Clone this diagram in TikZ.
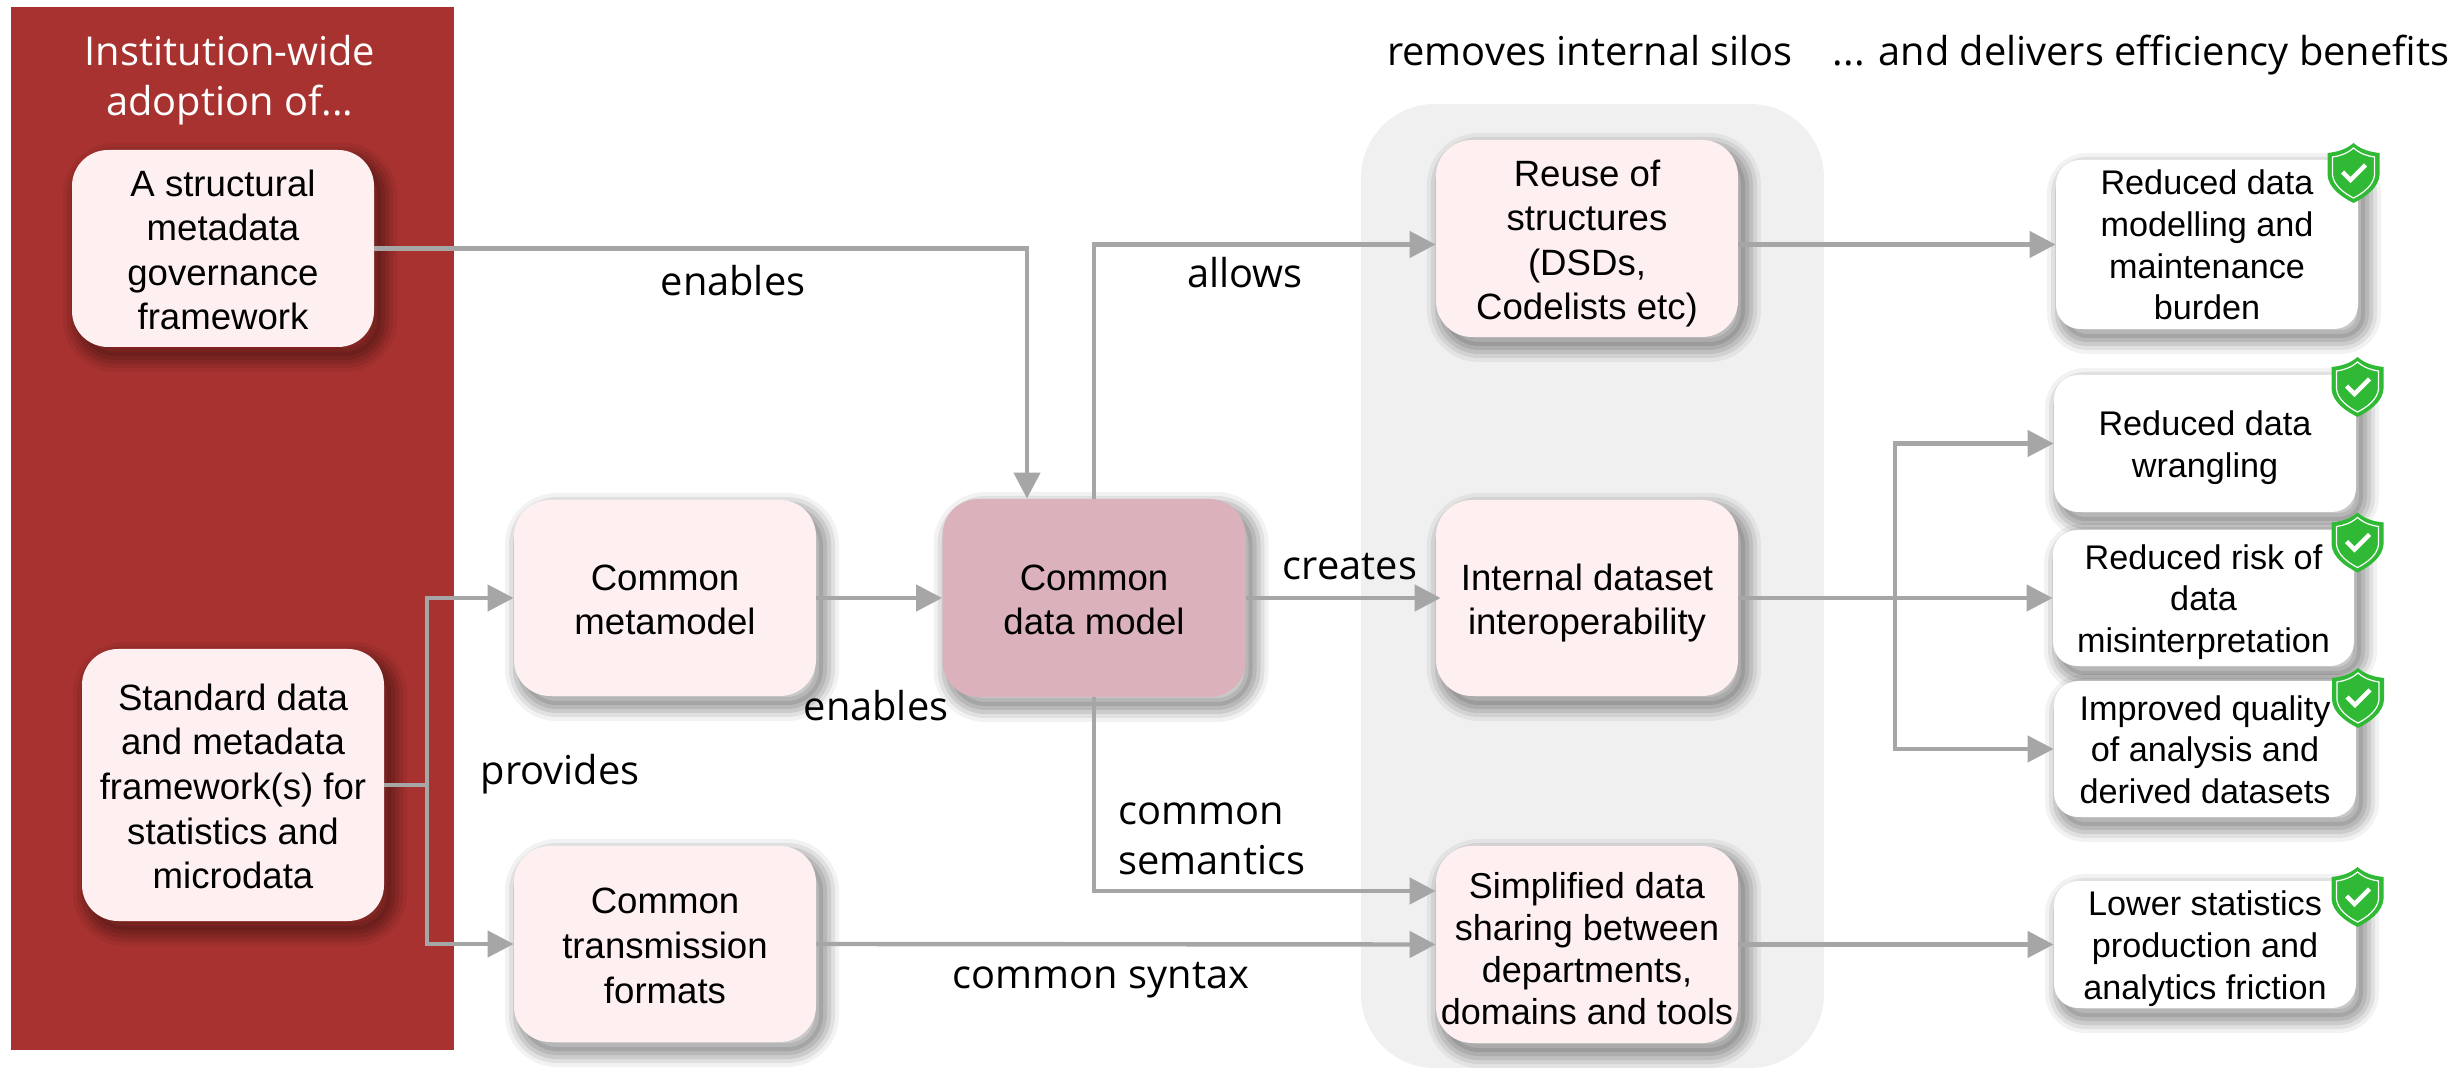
\documentclass[tikz,border=0pt]{standalone}
\usepackage{fontspec}
\setmainfont{Liberation Sans}
\newfontfamily\labelfont{Open Sans}
\usetikzlibrary{arrows.meta}
\definecolor{panelred}{HTML}{A8322F}
\definecolor{panelgray}{HTML}{F0F0F0}
\definecolor{boxpink}{HTML}{FEF0F0}
\definecolor{boxrose}{HTML}{DBB2BB}
\definecolor{linegray}{HTML}{A6A6A6}
\definecolor{shieldgreen}{HTML}{2FB934}
\newcommand\midtop{\rule{0pt}{22pt}}
\newcommand\midend{\rule[-7.5pt]{0pt}{0pt}}
\newcommand\sharetop{\rule{0pt}{25pt}}
\newcommand\shareend{\rule[-8pt]{0pt}{0pt}}
\newcommand\outtop{\rule{0pt}{16.6pt}}
\newcommand\outend{\rule[-3.7pt]{0pt}{0pt}}
\tikzset{
  x=0.5pt,y=-0.5pt,
  shring/.style 2 args={preaction={draw=black,draw opacity=#1,line width=#2,transform canvas={xshift=3.5pt,yshift=-4.5pt}}},
  shbase/.style={preaction={fill=black,fill opacity=#1,transform canvas={xshift=3.5pt,yshift=-4.5pt}}},
  softshadow/.style={shring={.05}{16pt},shring={.07}{12pt},shring={.09}{8pt},shring={.09}{4pt},shbase={.1}},
  box/.style 2 args={softshadow,fill=boxpink,rounded corners=18pt,inner sep=0pt,align=center,
    minimum width=#1*0.5pt,minimum height=#2*0.5pt,text=black,
    font=\fontsize{18.3}{22.3}\selectfont},
  sharebox/.style={font=\fontsize{18}{20.85}\selectfont},
  outbox/.style={fill=white,rounded corners=12pt,font=\fontsize{17.1}{20.8}\selectfont},
  conn/.style={draw=linegray,line width=2.2pt},
  arr/.style={conn,-{Triangle[length=13pt,width=13pt]}},
  lbl/.style={font=\labelfont\fontsize{19.9}{25.3}\selectfont,align=center,inner sep=0pt,text=black,anchor=base},
  shieldmark/.pic={
    \fill[shieldgreen] (0,-30) .. controls (8,-23) and (17,-21) .. (26,-20) -- (26,2) .. controls (25,15) and (12,24) .. (0,30) .. controls (-12,24) and (-25,15) .. (-26,2) -- (-26,-20) .. controls (-17,-21) and (-8,-23) .. (0,-30) -- cycle;
    \draw[white,line width=.6pt] (0,-25) .. controls (7,-19) and (14,-17) .. (21,-16) -- (21,2) .. controls (20,12) and (10,20) .. (0,25) .. controls (-10,20) and (-20,12) .. (-21,2) -- (-21,-16) .. controls (-14,-17) and (-7,-19) .. (0,-25) -- cycle;
    \draw[white,line width=2.2pt] (-11,-1) -- (-3,7) -- (12,-8);
  },
}
\begin{document}
\begin{tikzpicture}
\useasboundingbox (0,0) rectangle (2458,1068);
\fill[white] (0,0) rectangle (2458,1068);
\fill[panelred] (11,7) rectangle (454,1050);
\fill[panelgray,rounded corners=37pt] (1361,104) -- (1824,104) -- (1824,1068) -- (1361,1068) -- cycle;

\node[lbl,text=white] (title) at (230,116) {Institution-wide\\adoption of...};
\node[lbl] (silos) at (1590,66) {removes internal silos};
\node[lbl] (benefits) at (2141,66) {... and delivers efficiency benefits};

\node[box={302}{197}] (gov) at (223,248.5) {\midtop A structural\\metadata\\governance\\framework\midend};
\node[box={302}{272}] (std) at (233,785) {\midtop Standard data\\and metadata\\framework(s) for\\statistics and\\microdata\midend};
\node[box={302}{196}] (meta) at (665,598) {\midtop Common\\metamodel\midend};
\node[box={303}{198},fill=boxrose] (cdm) at (1094,598) {\midtop Common\\data model\midend};
\node[box={302}{196}] (trans) at (665,944) {\midtop Common\\transmission\\formats\midend};
\node[box={302}{197}] (reuse) at (1587,238.5) {\midtop Reuse of\\structures\\(DSDs,\\Codelists etc)\midend};
\node[box={302}{196}] (interop) at (1587,598) {\midtop Internal dataset\\interoperability\midend};
\node[box={302}{197},sharebox] (share) at (1587,944.5) {\sharetop Simplified data\\sharing between\\departments,\\domains and tools\shareend};

\node[box={302}{169},outbox] (o1) at (2207,244.5) {\outtop Reduced data\\modelling and\\maintenance\\burden\outend};
\node[box={302}{137},outbox] (o2) at (2205,443.5) {\outtop Reduced data\\wrangling\outend};
\node[box={301}{136},outbox] (o3) at (2203.5,598) {\outtop Reduced risk of\\data\\misinterpretation\outend};
\node[box={302}{136},outbox] (o4) at (2205,749) {\outtop Improved quality\\of analysis and\\derived datasets\outend};
\node[box={302}{127},outbox] (o5) at (2205,944.5) {\outtop Lower statistics\\production and\\analytics friction\outend};

\pic at (2353.5,173) {shieldmark};
\pic at (2357.5,387) {shieldmark};
\pic at (2357.5,542.5) {shieldmark};
\pic at (2358,698) {shieldmark};
\pic at (2357.5,897) {shieldmark};

\coordinate (stdjoin) at (427,785);
\coordinate (outjoin) at (1895,598);
\draw[arr] (gov.east) -| ([xshift=-33.5pt]cdm.north);
\draw[arr] (cdm.north) |- (reuse.west |- o1.west);
\draw[arr,shorten >=-2.5pt] (cdm.east) -- (interop.west);
\draw[arr] (cdm.south) |- ([yshift=26.75pt]share.west);
\draw[arr] (meta.east) -- (cdm.west);
\draw[conn] (std.east) -- (stdjoin);
\draw[arr] (stdjoin) |- (meta.west);
\draw[arr] (stdjoin) |- (trans.west);
\draw[arr] (trans.east) -- (share.west);
\draw[arr] (reuse.east |- o1.west) -- (o1.west);
\draw[conn] (interop.east) -- (outjoin);
\draw[arr] (outjoin) |- (o2.west);
\draw[arr] (outjoin) -- (o3.west);
\draw[arr] (outjoin) |- (o4.west);
\draw[arr] (share.east) -- (o5.west);

\node[lbl] (l1) at (733,296) {enables};
\node[lbl] (l2) at (1245,288) {allows};
\node[lbl] (l3) at (1350,580) {creates};
\node[lbl] (l4) at (876,721) {enables};
\node[lbl] (l5) at (560,785) {provides};
\node[lbl,align=left,anchor=base west] (l6) at (1118,875) {common\\semantics};
\node[lbl] (l7) at (1101,988) {common syntax};
\end{tikzpicture}
\end{document}
